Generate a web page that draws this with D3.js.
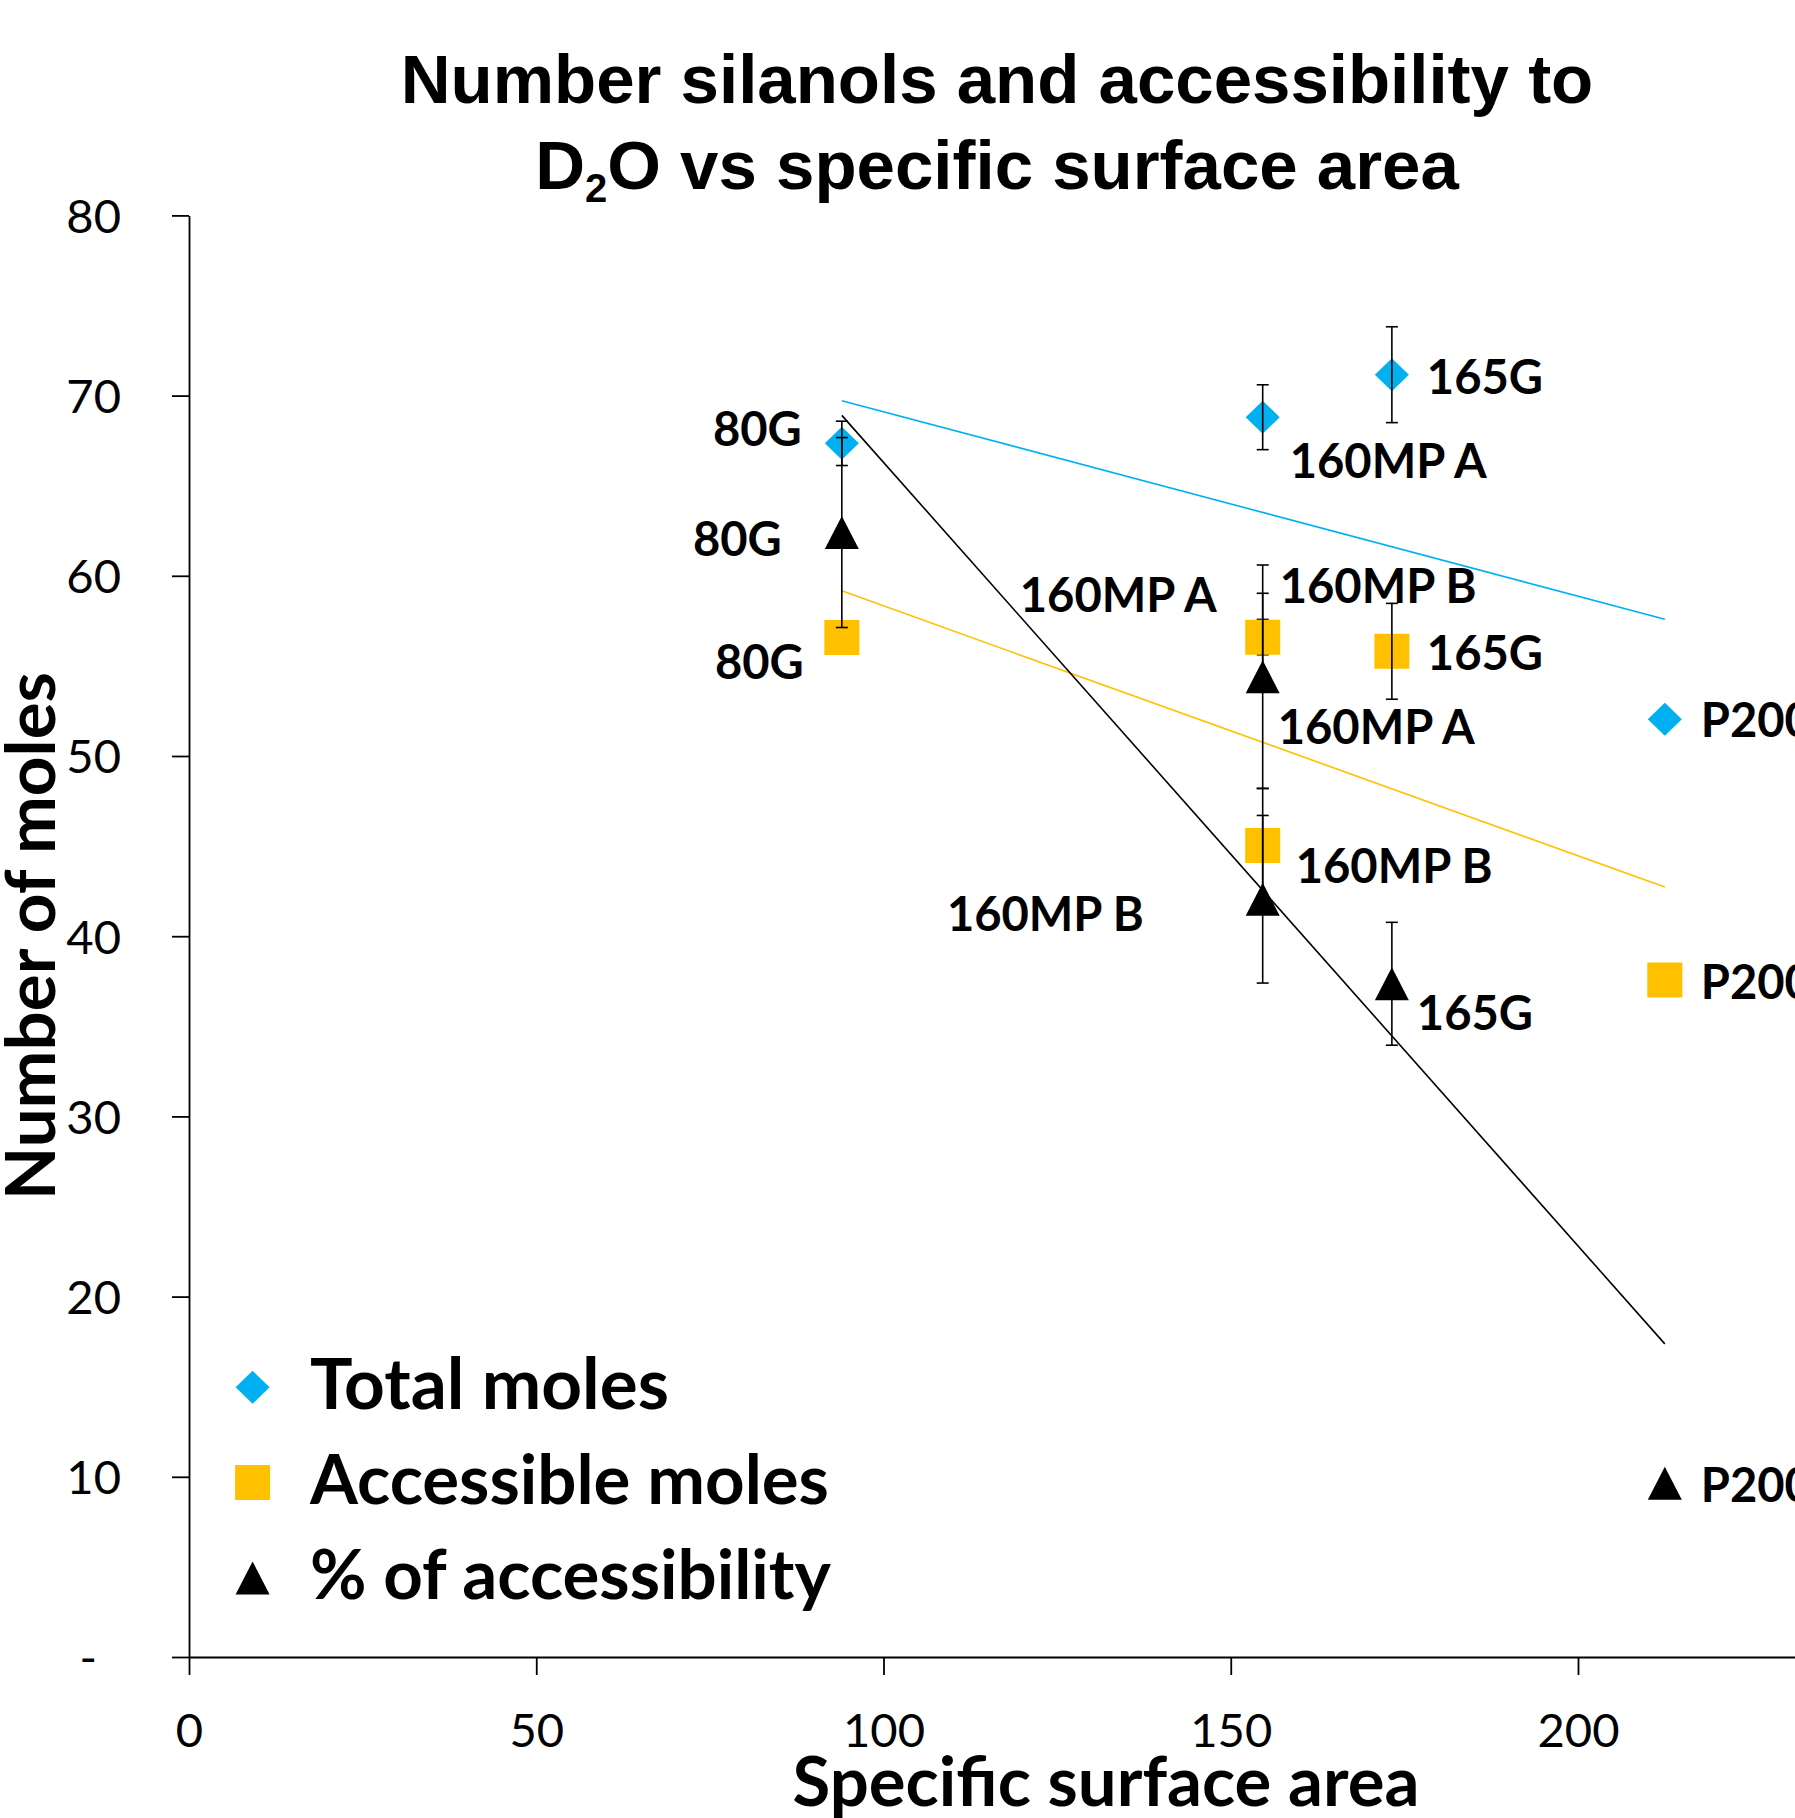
<!DOCTYPE html>
<html>
<head>
<meta charset="utf-8">
<script src="https://cdn.jsdelivr.net/npm/d3@7"></script>
<style>
  body { margin: 0; background: #ffffff; }
  svg { display: block; }
</style>
</head>
<body>
<svg id="chart" width="1795" height="1818"></svg>
<script>
// ---------------- DATA ----------------
const samples = ["80G", "160MP A", "160MP B", "165G", "P200"];
const surfaceArea = [94.0, 154.6, 154.6, 173.2, 212.5];
const totalMoles = [67.35, 68.8, 56.6, 71.16, 52.04];
const totalMolesErr = [1.23, 1.8, 0.98, 2.66, 0];
const accessibleMoles = [56.58, 56.59, 45.04, 55.81, 37.57];
const accessibleMolesErr = [0, 2.44, 3.16, 2.66, 0];
const accessibility = [62.4, 54.4, 42.05, 37.36, 9.64];
const accessibilityErr = [5.27, 6.2, 4.65, 3.41, 0];
const seriesNames = ["Total moles", "Accessible moles", "% of accessibility"];
const xTicks = [0, 50, 100, 150, 200, 250];
const yTicks = [0, 10, 20, 30, 40, 50, 60, 70, 80];
const titleLine1 = "Number silanols and accessibility to";
const xTitle = "Specific surface area";
const yTitle = "Number of moles";

// ---------------- LAYOUT / STYLE ----------------
const W = 1795, H = 1818;
const colors = ["#00B0F0", "#FFC000", "#000000"];
const shapes = ["diamond", "square", "triangle"];
// data label offsets (px) relative to each marker: [dx, dy(center), anchor]
const labelOffsets = [
  [[-40, -14, "end"], [27, 44, "start"], [17, -51, "start"], [35, 2, "start"], [36, 1, "start"]],
  [[-38, 25, "end"], [-46, -42, "end"], [33, 21, "start"], [35, 2, "start"], [36, 2, "start"]],
  [[-60, 7, "end"], [15, 50, "start"], [-119, 15, "end"], [25, 29, "start"], [36, 2, "start"]]
];
const legendWidths = [359, 519, 521];

const svg = d3.select("#chart");
const FONT = "Lato, 'Open Sans', sans-serif";

function measure(text, size, weight, family) {
  const t = svg.append("text").attr("font-size", size).attr("font-weight", weight)
    .attr("font-family", family).text(text);
  const w = t.node().getComputedTextLength();
  t.remove();
  return w;
}
function fitSize(text, targetW, weight, family) {
  const w = measure(text, 100, weight, family);
  return 100 * targetW / w;
}

const x = d3.scaleLinear().domain([0, 250]).range([189, 189 + 250 * 6.945]);
const y = d3.scaleLinear().domain([0, 80]).range([1657, 215.4]);

// ---------------- TITLE ----------------
const titleFont = "'Liberation Sans', Arial, sans-serif";
svg.append("text").attr("x", 997).attr("y", 103).attr("text-anchor", "middle")
  .attr("font-family", titleFont).attr("font-weight", "bold").attr("font-size", 69)
  .attr("fill", "#000").text(titleLine1);
const t2 = svg.append("text").attr("x", 997).attr("y", 189).attr("text-anchor", "middle")
  .attr("font-family", titleFont).attr("font-weight", "bold").attr("font-size", 69).attr("fill", "#000");
t2.append("tspan").text("D");
t2.append("tspan").attr("font-size", 40).attr("dy", 13).text("2");
t2.append("tspan").attr("dy", -13).text("O vs specific surface area");

// ---------------- AXES ----------------
const tickFs = fitSize("200", 82, "normal", FONT);

const yAxis = d3.axisLeft(y).tickValues(yTicks).tickSize(17).tickSizeOuter(0).tickPadding(51)
  .tickFormat(d => d === 0 ? "-\u00A0\u00A0" : d);
const gy = svg.append("g").attr("transform", `translate(${x(0)},0)`).call(yAxis);
gy.selectAll("text").attr("font-family", FONT).attr("font-size", tickFs).attr("fill", "#000").attr("dy", "0.36em");
gy.selectAll("line").attr("stroke", "#000").attr("stroke-width", 1.8);
gy.select(".domain").attr("stroke", "#000").attr("stroke-width", 1.8);

const xAxis = d3.axisBottom(x).tickValues(xTicks).tickSize(18).tickSizeOuter(0).tickPadding(39)
  .tickFormat(d3.format("d"));
const gx = svg.append("g").attr("transform", `translate(0,${y(0)})`).call(xAxis);
gx.selectAll("text").attr("font-family", FONT).attr("font-size", tickFs).attr("fill", "#000");
gx.selectAll("line").attr("stroke", "#000").attr("stroke-width", 1.8);
gx.select(".domain").attr("stroke", "#000").attr("stroke-width", 2);

// axis titles
const axTitleFs = fitSize(xTitle, 627, "bold", FONT);
svg.append("text").attr("x", 1106).attr("y", 1757 + 0.7165 * axTitleFs).attr("text-anchor", "middle")
  .attr("font-family", FONT).attr("font-weight", "bold").attr("font-size", axTitleFs).attr("fill", "#000").text(xTitle);
const yTitleFs = fitSize(yTitle, 528, "bold", FONT);
svg.append("text").attr("transform", `translate(55,936) rotate(-90)`).attr("text-anchor", "middle")
  .attr("font-family", FONT).attr("font-weight", "bold").attr("font-size", yTitleFs).attr("fill", "#000").text(yTitle);

// ---------------- SERIES ----------------
const seriesVals = [totalMoles, accessibleMoles, accessibility];
const seriesErrs = [totalMolesErr, accessibleMolesErr, accessibilityErr];

function markerPath(shape, cx, cy) {
  if (shape === "diamond") return `M${cx},${cy - 16.5}L${cx + 17},${cy}L${cx},${cy + 16.5}L${cx - 17},${cy}Z`;
  if (shape === "square") return `M${cx - 17.5},${cy - 17.5}h35v35h-35Z`;
  return `M${cx},${cy - 16.5}L${cx + 17},${cy + 16.5}L${cx - 17},${cy + 16.5}Z`;
}

// trendlines (least squares from the data)
const trendG = svg.append("g");
seriesVals.forEach((vals, s) => {
  const pts = surfaceArea.map((xv, i) => [xv, vals[i]]);
  const mx = d3.mean(pts, p => p[0]), my = d3.mean(pts, p => p[1]);
  const sxy = d3.sum(pts, p => (p[0] - mx) * (p[1] - my));
  const sxx = d3.sum(pts, p => (p[0] - mx) ** 2);
  const slope = sxy / sxx, icpt = my - slope * mx;
  const [x0, x1] = d3.extent(surfaceArea);
  trendG.append("line")
    .attr("x1", x(x0)).attr("y1", y(icpt + slope * x0))
    .attr("x2", x(x1)).attr("y2", y(icpt + slope * x1))
    .attr("stroke", colors[s]).attr("stroke-width", 1.6);
});

// markers + error bars
seriesVals.forEach((vals, s) => {
  const g = svg.append("g");
  g.selectAll("path.m").data(vals).join("path").attr("class", "m")
    .attr("d", (v, i) => markerPath(shapes[s], x(surfaceArea[i]), y(v)))
    .attr("fill", colors[s]);
  const errs = seriesErrs[s];
  vals.forEach((v, i) => {
    const e = errs[i];
    if (!e) return;
    const cx = x(surfaceArea[i]);
    const eg = g.append("g").attr("stroke", "#000").attr("stroke-width", 1.6);
    eg.append("line").attr("x1", cx).attr("x2", cx).attr("y1", y(v - e)).attr("y2", y(v + e));
    eg.append("line").attr("x1", cx - 6).attr("x2", cx + 6).attr("y1", y(v - e)).attr("y2", y(v - e));
    eg.append("line").attr("x1", cx - 6).attr("x2", cx + 6).attr("y1", y(v + e)).attr("y2", y(v + e));
  });
});

// data labels
const labelFs = fitSize("160MP A", 197, "bold", FONT);
seriesVals.forEach((vals, s) => {
  vals.forEach((v, i) => {
    const [dx, dy, anchor] = labelOffsets[s][i];
    svg.append("text")
      .attr("x", x(surfaceArea[i]) + dx)
      .attr("y", y(v) + dy + 0.7165 * labelFs / 2)
      .attr("text-anchor", anchor)
      .attr("font-family", FONT).attr("font-weight", "bold").attr("font-size", labelFs)
      .attr("fill", "#000").text(samples[i]);
  });
});

// ---------------- LEGEND ----------------
const legendY = [1387.3, 1482.5, 1578];
const legendBase = [1409, 1504, 1599];
seriesNames.forEach((name, s) => {
  const fs = fitSize(name, legendWidths[s], "bold", FONT);
  svg.append("path").attr("d", markerPath(shapes[s], 252.6, legendY[s])).attr("fill", colors[s]);
  svg.append("text").attr("x", 310).attr("y", legendBase[s])
    .attr("font-family", FONT).attr("font-weight", "bold").attr("font-size", fs)
    .attr("fill", "#000").text(name);
});
</script>
</body>
</html>
